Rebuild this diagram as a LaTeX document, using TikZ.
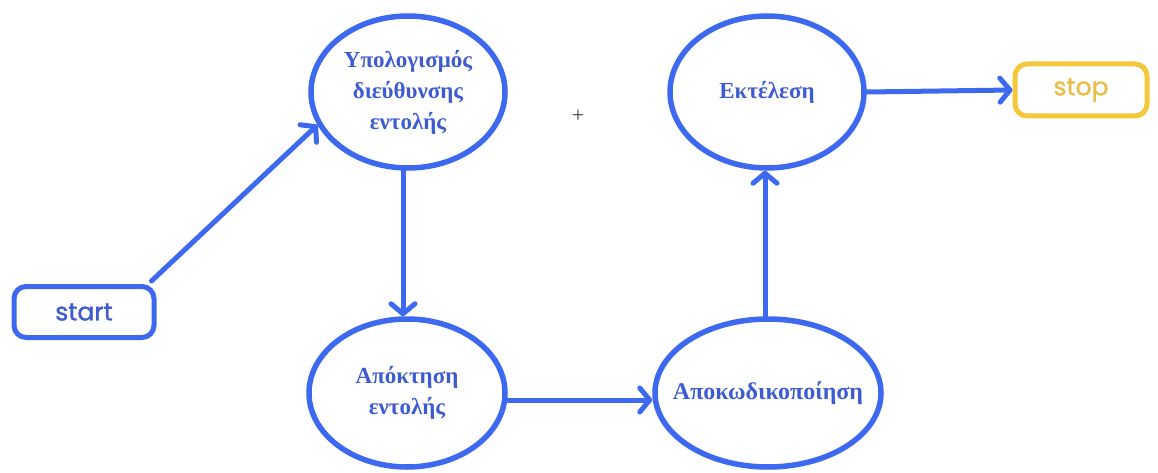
\documentclass[tikz,border=0pt]{standalone}
\usepackage{fontspec}
\setmainfont{Liberation Serif}
\newfontfamily\termfont[FakeBold=1.2]{Poppins}
\usetikzlibrary{shapes.geometric,arrows.meta}
\definecolor{flowblue}{RGB}{61,104,240}
\definecolor{labelblue}{RGB}{62,92,210}
\definecolor{stopyellow}{RGB}{245,200,60}
\definecolor{stoptext}{RGB}{232,190,70}
\tikzset{
  stepoval/.style={ellipse, draw=flowblue, line width=5.5pt, fill=white,
    font=\bfseries\fontsize{23}{31}\selectfont, text=labelblue, align=center, inner sep=0pt},
  termbox/.style={rounded corners=12pt, line width=5pt, fill=white, inner sep=0pt,
    font=\termfont\fontsize{25}{28}\selectfont},
  flow/.style={draw=flowblue, line width=5pt, line cap=round,
    -{Straight Barb[length=10pt,width=24pt,round]}}
}
\begin{document}
\begin{tikzpicture}[x=1pt,y=-1pt]
\useasboundingbox (0,0) rectangle (1158,473);
% terminals
\node[termbox, draw=flowblue, text=labelblue, minimum width=140pt, minimum height=51pt] (start) at (84,312) {start};
\node[termbox, draw=stopyellow, text=stoptext, minimum width=132pt, minimum height=52pt] (stop) at (1081,90) {stop};
% processing steps (labels boxed at zero width so the ovals keep their size)
\node[stepoval, minimum width=194pt, minimum height=152pt] (addr) at (408,92)
  {\makebox[0pt]{\raisebox{-11pt}{\begin{tabular}{@{}c@{}}Υπολογισμός\\διεύθυνσης\\εντολής\end{tabular}}}};
\node[stepoval, minimum width=196pt, minimum height=148pt] (fetch) at (407,393)
  {\makebox[0pt]{\begin{tabular}{@{}c@{}}Απόκτηση\\εντολής\end{tabular}}};
\node[stepoval, minimum width=226pt, minimum height=148pt] (decode) at (768,393)
  {\makebox[0pt]{\fontsize{24}{31}\selectfont Αποκωδικοποίηση}};
\node[stepoval, minimum width=194pt, minimum height=152pt] (exec) at (767,92) {\makebox[0pt]{Εκτέλεση}};
% plus mark
\node[font=\fontsize{22}{22}\selectfont, text=black!75] (plus) at (578,116) {+};
% connectors
\draw[flow] (start.north east) ++(-5pt,3pt) -- (addr.-160);
\draw[flow] (addr.south -| 403,0) -- (fetch.north -| 403,0);
\draw[flow] (fetch.east |- 0,400) -- (decode.west |- 0,400);
\draw[flow] (decode.north -| 765,0) -- (exec.south -| 765,0);
\draw[flow] (exec.east) -- (stop.west);
\end{tikzpicture}
\end{document}
